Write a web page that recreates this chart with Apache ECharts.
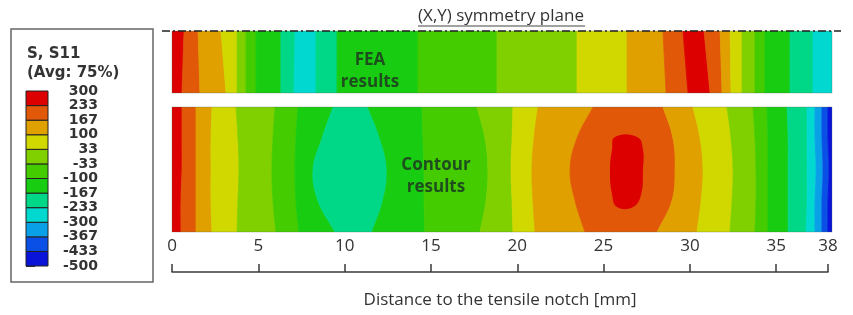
<!DOCTYPE html>
<html><head><meta charset="utf-8">
<script src="https://cdn.jsdelivr.net/npm/echarts@6/dist/echarts.min.js"></script>
<style>html,body{margin:0;padding:0;background:#fff}#c{width:853px;height:315px}</style>
</head><body><div id="c"></div><script>
// ---- legend (S, S11 contour levels, bottom to top) ----
const legendLabels = ['-500','-433','-367','-300','-233','-167','-100','-33','33','100','167','233','300'];
const levelColors = ['#0a14d8','#0a50e6','#0aa0e8','#00d8d0','#00d888','#18cc12','#44cc00','#80d000','#d0d800','#e0a000','#e05808','#dc0000'];
// ---- x axis ----
const tickValues = [0,5,10,15,20,25,30,35,38];
const stripLength = 38.23;
// ---- FEA strip: band level indices left->right, boundaries [x at top, x at bottom] (mm) ----
const feaLevels = [11,10,9,8,7,6,5,4,3,4,5,6,7,8,9,10,11,10,9,8,7,6,5,4,3];
const feaBounds = [
  [0.70,0.58],[1.51,1.62],[2.84,3.13],[3.77,3.77],[4.29,4.29],[4.87,4.87],
  [6.31,6.31],[7.13,7.07],[8.34,8.34],[9.56,9.56],[14.25,14.25],[18.83,18.83],
  [23.46,23.46],[26.36,26.36],[28.44,28.62],[29.60,29.89],[30.82,31.17],[31.75,31.86],
  [32.33,32.38],[33.02,33.02],[33.77,33.77],[34.35,34.35],[35.80,35.80],[37.13,37.13]
];
// ---- Contour strip: boundaries at 5 heights (top, 1/4, mid, 3/4, bottom) (mm) ----
const contourLevels = [11,10,9,8,7,6,5,4,5,6,7,8,9,10,9,8,7,6,5,4,3,2,1,0];
const contourBounds = [
  [0.58,0.58,0.58,0.52,0.52],[1.39,1.39,1.39,1.39,1.39],[2.32,2.26,2.26,2.26,2.32],
  [3.71,3.82,3.88,3.82,3.77],[5.97,5.85,5.79,5.85,6.02],[7.30,7.18,7.13,7.18,7.36],
  [9.33,8.69,8.17,8.46,9.44],[11.35,12.05,12.45,12.22,11.59],[14.48,14.54,14.60,14.60,14.65],
  [17.67,18.13,18.30,18.19,17.84],[19.75,19.70,19.64,19.70,19.75],[21.20,20.97,20.85,20.91,21.03],
  [24.39,23.46,23.06,23.35,23.92],[28.44,29.02,29.14,28.96,28.10],[30.18,30.59,30.76,30.65,30.41],
  [32.15,32.38,32.50,32.44,32.32],[33.66,33.77,33.83,33.83,33.77],[34.47,34.52,34.52,34.52,34.52],
  [35.63,35.69,35.69,35.69,35.69],[36.79,36.79,36.79,36.79,36.73],[37.25,37.25,37.31,37.25,37.25],
  [37.65,37.65,37.71,37.65,37.65],[38.00,38.00,38.06,38.00,38.00]
];
// closed peak region inside the Contour strip
const islandLevel = 11;
const islandFrac = [0.24,0.34,0.5,0.7,0.8];
const islandLeft = [25.66,25.49,25.37,25.49,25.78];
const islandRight = [26.94,27.28,27.28,27.17,26.71];

// Band polygon between two boundaries; for curved boundaries the corners are pushed
// outside the strip along the contour direction (and clipped away) so the library's
// smoothing only bends the contour lines.
function bandRenderer(levels, bounds, smooth) {
  const n = bounds[0].length;
  const ext = smooth ? 0.3 : 0;
  const step = 1 / (n - 1);
  return function (params, api) {
    const i = api.value(0);
    const L = i === 0 ? new Array(n).fill(-0.5) : bounds[i - 1];
    const R = i === levels.length - 1 ? new Array(n).fill(stripLength + 0.5) : bounds[i];
    const side = (B, j) => api.coord([B[j], j * step]);
    const topExt = B => api.coord([B[0] + (B[0] - B[1]) * ext / step, -ext]);
    const botExt = B => api.coord([B[n - 1] + (B[n - 1] - B[n - 2]) * ext / step, 1 + ext]);
    const pts = [];
    if (ext) pts.push(topExt(L));
    for (let j = 0; j < n; j++) pts.push(side(L, j));
    if (ext) pts.push(botExt(L), botExt(R));
    for (let j = n - 1; j >= 0; j--) pts.push(side(R, j));
    if (ext) pts.push(topExt(R));
    const c = levelColors[levels[i]];
    return { type: 'polygon', shape: { points: pts, smooth: smooth || 0 },
      style: { fill: c, stroke: c, lineWidth: 0.8 } };
  };
}
function islandRenderer(params, api) {
  const pts = [];
  for (let j = 0; j < islandFrac.length; j++) pts.push(api.coord([islandLeft[j], islandFrac[j]]));
  for (let j = islandFrac.length - 1; j >= 0; j--) pts.push(api.coord([islandRight[j], islandFrac[j]]));
  const c = levelColors[islandLevel];
  return { type: 'polygon', shape: { points: pts, smooth: 0.45 }, style: { fill: c } };
}
function frameRenderer(params, api) {
  const a = api.coord([0, 0]), b = api.coord([stripLength, 1]);
  return { type: 'rect', shape: { x: a[0], y: a[1], width: b[0] - a[0], height: b[1] - a[1] },
    style: { fill: 'none', stroke: 'rgba(80,110,80,0.3)', lineWidth: 1 } };
}
function legendRenderer(params, api) {
  const i = api.value(0);
  const a = api.coord([0, i + 1]), b = api.coord([1, i]);
  return { type: 'rect', shape: { x: a[0], y: a[1], width: b[0] - a[0], height: b[1] - a[1] },
    style: { fill: levelColors[i], stroke: '#222', lineWidth: 1 } };
}

const stripX = { type: 'value', min: 0, max: stripLength, show: false };
const stripY = { type: 'value', min: 0, max: 1, inverse: true, show: false };
const axisFont = '"Open Sans", "Liberation Sans", sans-serif';

const chart = echarts.init(document.getElementById('c'), null, { renderer: 'canvas' });
chart.setOption({
  animation: false,
  backgroundColor: '#fff',
  grid: [
    { left: 172, top: 31, width: 660, height: 62 },
    { left: 172, top: 107, width: 660, height: 125 },
    { left: 172, top: 262, width: 656, height: 10 },
    { left: 26, top: 91, width: 22, height: 175 }
  ],
  xAxis: [
    Object.assign({ gridIndex: 0 }, stripX),
    Object.assign({ gridIndex: 1 }, stripX),
    { gridIndex: 2, type: 'value', position: 'top', min: 0, max: 38,
      axisLine: { show: true, lineStyle: { color: '#3a3a3a', width: 1.5 } },
      axisTick: { show: true, customValues: tickValues, length: 8, lineStyle: { color: '#3a3a3a', width: 1.5 } },
      axisLabel: { customValues: tickValues, fontFamily: axisFont, fontSize: 17, color: '#333', margin: 7 },
      splitLine: { show: false } },
    { gridIndex: 3, type: 'value', min: 0, max: 1, show: false }
  ],
  yAxis: [
    Object.assign({ gridIndex: 0 }, stripY),
    Object.assign({ gridIndex: 1 }, stripY),
    { gridIndex: 2, type: 'value', show: false },
    { gridIndex: 3, type: 'value', position: 'right', min: 0, max: 12, interval: 1,
      axisLine: { show: false },
      axisTick: { show: true, length: 9, lineStyle: { color: '#333', width: 1 } },
      axisLabel: { formatter: v => legendLabels[Math.round(v)], align: 'right', margin: 50,
        fontFamily: '"DejaVu Sans", sans-serif', fontWeight: 'bold', fontSize: 14, color: '#333' },
      splitLine: { show: false } }
  ],
  series: [
    { type: 'custom', xAxisIndex: 0, yAxisIndex: 0, clip: true, renderItem: bandRenderer(feaLevels, feaBounds, 0),
      data: feaLevels.map((_, i) => [i]) },
    { type: 'custom', xAxisIndex: 1, yAxisIndex: 1, clip: true, renderItem: bandRenderer(contourLevels, contourBounds, 0.4),
      data: contourLevels.map((_, i) => [i]) },
    { type: 'custom', xAxisIndex: 1, yAxisIndex: 1, clip: true, renderItem: islandRenderer, data: [[0]], z: 3 },
    { type: 'custom', xAxisIndex: 0, yAxisIndex: 0, renderItem: frameRenderer, data: [[0]], z: 4 },
    { type: 'custom', xAxisIndex: 1, yAxisIndex: 1, renderItem: frameRenderer, data: [[0]], z: 4 },
    { type: 'custom', xAxisIndex: 3, yAxisIndex: 3, renderItem: legendRenderer,
      data: levelColors.map((_, i) => [i]) }
  ],
  graphic: [
    { type: 'rect', shape: { x: 11, y: 29, width: 142, height: 253 }, style: { fill: 'none', stroke: '#666', lineWidth: 1.5 } },
    { type: 'text', x: 27, y: 54, style: { text: 'S, S11', font: 'bold 15px "DejaVu Sans"', fill: '#333', verticalAlign: 'middle' } },
    { type: 'text', x: 27, y: 73, style: { text: '(Avg: 75%)', font: 'bold 15px "DejaVu Sans"', fill: '#333', verticalAlign: 'middle' } },
    { type: 'text', x: 501, y: 16, style: { text: '(X,Y) symmetry plane', font: '17px "Open Sans"', fill: '#333', align: 'center', verticalAlign: 'middle' } },
    { type: 'line', shape: { x1: 418, y1: 26, x2: 585, y2: 26 }, style: { stroke: '#444', lineWidth: 1 } },
    { type: 'line', z: 100, shape: { x1: 162, y1: 31, x2: 841, y2: 31 }, style: { stroke: '#222', lineWidth: 1.5, lineDash: [8, 3, 2, 3] } },
    { type: 'text', z: 100, x: 370, y: 71, style: { text: 'FEA\nresults', font: 'bold 17px "Open Sans"', lineHeight: 22, fill: '#1e4e1e', align: 'center', verticalAlign: 'middle' } },
    { type: 'text', z: 100, x: 436, y: 176, style: { text: 'Contour\nresults', font: 'bold 17px "Open Sans"', lineHeight: 22, fill: '#1e4e1e', align: 'center', verticalAlign: 'middle' } },
    { type: 'text', x: 500, y: 300, style: { text: 'Distance to the tensile notch [mm]', font: '17px "Open Sans"', fill: '#333', align: 'center', verticalAlign: 'middle' } }
  ]
});
</script></body></html>
